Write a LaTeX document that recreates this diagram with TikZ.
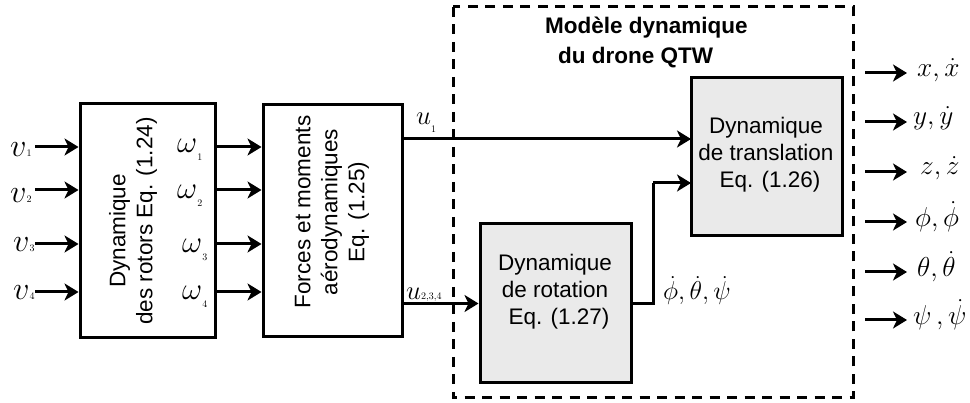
\documentclass[tikz,border=0pt]{standalone}
\usepackage{fontspec}
\setsansfont{Liberation Sans}
\usetikzlibrary{arrows.meta}
\definecolor{boxgray}{RGB}{234,234,234}
\newcommand\sbs[2][8pt]{\raisebox{-#1}{\fontsize{10}{10}\selectfont #2}}
\newcommand\mb[2][1.08]{\scalebox{#1}{#2}}
\begin{document}
\begin{tikzpicture}[x=1pt,y=-1pt,
  blk/.style={draw, line width=3pt, inner sep=0pt},
  gblk/.style={blk, fill=boxgray},
  arr/.style={line width=3pt, -{Stealth[length=14pt,width=17pt,inset=4pt]}},
  ln/.style={line width=3pt},
  txt/.style={font=\sffamily\fontsize{22.5}{27}\selectfont, align=center, inner sep=0pt},
  ttl/.style={font=\sffamily\bfseries\fontsize{22.5}{27}\selectfont, inner sep=0pt, anchor=base west},
  mth/.style={font=\fontsize{24.88}{26}\selectfont, inner sep=0pt, anchor=base west}]
\useasboundingbox (0,0) rectangle (970,403);

% dashed frame
\draw[line width=3pt, dash pattern=on 10pt off 7.5pt] (453,7) rectangle (853,398);
\node[ttl] (t1) at (545,34) {Modèle dynamique};
\node[ttl] (t2) at (558,64) {du drone QTW};

% blocks
\node[blk, minimum width=135pt, minimum height=234pt] (r1) at (147.5,221) {};
\node[txt, rotate=90] (r1t) at (133,221) {Dynamique\hspace*{20pt}\\des rotors Eq. (1.24)};
\node[blk, minimum width=139pt, minimum height=232pt] (r2) at (332.5,221) {};
\node[txt, rotate=90] (r2t) at (332,212) {Forces et moments\\aérodynamiques\\Eq. (1.25)};
\node[gblk, minimum width=151pt, minimum height=158pt] (T) at (766.5,157) {};
\node[txt] (Tt) at (766,155) {Dynamique\\de translation\\\hspace*{8pt}Eq. (1.26)};
\node[gblk, minimum width=151pt, minimum height=159pt] (R) at (555.5,303.5) {};
\node[txt] (Rt) at (555,292) {Dynamique\\de rotation\\\hspace*{8pt}Eq. (1.27)};

% inputs v_i and omega_i
\foreach \i/\y in {1/147,2/190,3/244,4/292}{
  \coordinate (v\i) at (35,\y);
  \draw[arr] (v\i) -- (v\i -| r1.west);
  \draw[arr] (v\i -| r1.east) -- (v\i -| r2.west);
}
\node[mth] (lv1) at (10,157) {\mb[1.3]{$v$}\sbs[0pt]{1}};
\node[mth] (lv2) at (10,203) {\mb[1.3]{$v$}\sbs[0pt]{2}};
\node[mth] (lv3) at (13,252) {\mb[1.3]{$v$}\sbs[0pt]{3}};
\node[mth] (lv4) at (13,300) {\mb[1.3]{$v$}\sbs[0pt]{4}};
\node[mth] (lw1) at (177,153) {\mb[1.25]{$\omega$}\sbs{1}};
\node[mth] (lw2) at (177,199) {\mb[1.25]{$\omega$}\sbs{2}};
\node[mth] (lw3) at (182,253) {\mb[1.25]{$\omega$}\sbs{3}};
\node[mth] (lw4) at (182,300) {\mb[1.25]{$\omega$}\sbs{4}};

% u1 and u234
\coordinate (Tin1) at (691,139);
\coordinate (Tin2) at (691,183);
\draw[arr] (Tin1 -| r2.east) -- (Tin1);
\node[mth] (lu1) at (416,125) {\mb{$u$}\sbs{1}};
\draw[arr] (R.west -| r2.east) -- (R.west);
\node[mth] (lu2) at (406,300) {\mb{$u$}\sbs[0pt]{2,3,4}};

% rotation -> translation
\coordinate (bend) at (653,303.5);
\draw[ln] (R.east) -- (bend) -- (bend |- Tin2);
\draw[arr] (bend |- Tin2) -- (Tin2);
\node[mth] (lrot) at (663,300) {\mb[1.04]{$\dot{\phi},\dot{\theta},\dot{\psi}$}};

% outputs
\foreach \i/\y in {1/73,2/122,3/172,4/222,5/272,6/320}{
  \coordinate (o\i) at (865,\y);
  \coordinate (e\i) at (907,\y);
  \draw[arr] (o\i) -- (e\i);
}
\node[mth] (lo1) at (917,77) {\mb[1.1]{$x,\dot{x}$}};
\node[mth] (lo2) at (913,125) {\mb[1.1]{$y,\dot{y}$}};
\node[mth] (lo3) at (920,175) {\mb[1.1]{$z,\dot{z}$}};
\node[mth] (lo4) at (915,227) {\mb[1.1]{$\phi,\dot{\phi}$}};
\node[mth] (lo5) at (917,277) {\mb[1.1]{$\theta,\dot{\theta}$}};
\node[mth] (lo6) at (913,325) {\mb[1.1]{$\psi\,,\dot{\psi}$}};
\end{tikzpicture}
\end{document}
